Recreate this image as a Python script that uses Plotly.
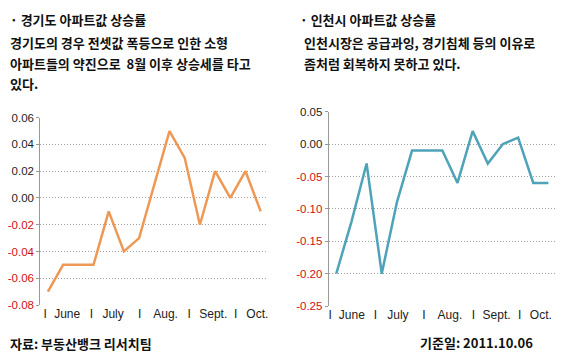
import plotly.graph_objects as go

# Data
idx = list(range(15))
gyeonggi = [-0.07, -0.05, -0.05, -0.05, -0.01, -0.04, -0.03, 0.01, 0.05, 0.03, -0.02, 0.02, 0.00, 0.02, -0.01]
incheon = [-0.20, -0.12, -0.03, -0.20, -0.09, -0.01, -0.01, -0.01, -0.06, 0.02, -0.03, 0.00, 0.01, -0.06, -0.06]

months = ["June", "July", "Aug.", "Sept.", "Oct."]
left_month_pos = [1.27, 4.29, 7.74, 10.88, 13.78]
left_sep_pos = [-0.18, 2.86, 6.04, 9.3, 12.35]
right_month_pos = [1.03, 4.07, 7.5, 10.58, 13.5]
right_sep_pos = [-0.4, 2.59, 5.78, 9.05, 12.1]

left_yticks = [-0.08, -0.06, -0.04, -0.02, 0.00, 0.02, 0.04, 0.06]
right_yticks = [-0.25, -0.20, -0.15, -0.10, -0.05, 0.00, 0.05]

KFONT = "Noto Sans CJK KR"
TFONT = "Liberation Sans, Arial, sans-serif"
RED = "#d01010"


def ytext(vals):
    out = []
    for v in vals:
        s = f"{v:.2f}"
        if v < 0:
            out.append(f'<span style="color:{RED}">{s}</span>')
        else:
            out.append(s)
    return out


fig = go.Figure()
fig.add_trace(go.Scatter(x=idx, y=gyeonggi, mode="lines", line=dict(color="#EE9855", width=2.5),
                         xaxis="x", yaxis="y", showlegend=False, cliponaxis=False))
fig.add_trace(go.Scatter(x=idx, y=incheon, mode="lines", line=dict(color="#4EA3B8", width=2.5),
                         xaxis="x2", yaxis="y2", showlegend=False, cliponaxis=False))

xcommon = dict(range=[-0.5, 14.5], showgrid=False, zeroline=False, showline=False, ticks="",
               tickfont=dict(family=TFONT, size=12, color="#222"), fixedrange=True,
               automargin=False, ticklabelstandoff=0)
ycommon = dict(showgrid=True, gridcolor="#a0a0a0", griddash="1px,2px", gridwidth=1, zeroline=False,
               showline=True, linecolor="#999", linewidth=1, ticks="outside", ticklen=3,
               tickcolor="#999", tickfont=dict(family=TFONT, size=11.5, color="#222"),
               automargin=False, fixedrange=True)

fig.update_layout(
    width=562, height=358,
    margin=dict(l=0, r=0, t=0, b=0),
    paper_bgcolor="white", plot_bgcolor="white",
    xaxis=dict(domain=[40.3 / 562, 268.3 / 562], anchor="y",
               tickmode="array", tickvals=left_sep_pos + left_month_pos,
               ticktext=["I"] * 5 + months, **xcommon),
    yaxis=dict(domain=[1 - 305 / 358, 1 - 117.7 / 358], anchor="x", range=[-0.08, 0.06],
               tickmode="array", tickvals=left_yticks, ticktext=ytext(left_yticks), **ycommon),
    xaxis2=dict(domain=[328.7 / 562, 556 / 562], anchor="y2",
                tickmode="array", tickvals=right_sep_pos + right_month_pos,
                ticktext=["I"] * 5 + months, **xcommon),
    yaxis2=dict(domain=[1 - 306 / 358, 1 - 111.7 / 358], anchor="x2", range=[-0.25, 0.05],
                tickmode="array", tickvals=right_yticks, ticktext=ytext(right_yticks), **ycommon),
)

texts = [
    ("· 경기도 아파트값 상승률", 8, 19),
    ("경기도의 경우 전셋값 폭등으로 인한 소형", 8, 43),
    ("아파트들의 약진으로  8월 이후 상승세를 타고", 8, 63),
    ("있다.", 8, 83),
    ("· 인천시 아파트값 상승률", 298, 19),
    ("인천시장은 공급과잉, 경기침체 등의 이유로", 302, 43),
    ("좀처럼 회복하지 못하고 있다.", 302, 63),
    ("자료: 부동산뱅크 리서치팀", 8, 343),
    ("기준일: 2011.10.06", 418, 342),
]
for t, x, y in texts:
    fig.add_annotation(text=f"<b>{t}</b>", x=x / 562, y=1 - y / 358, xref="paper", yref="paper",
                       xanchor="left", yanchor="middle", showarrow=False,
                       font=dict(family=KFONT, size=13, color="#111", weight=900))

fig.write_html("out.html", config={"displayModeBar": False},
               post_script="document.body.style.margin='0';")
